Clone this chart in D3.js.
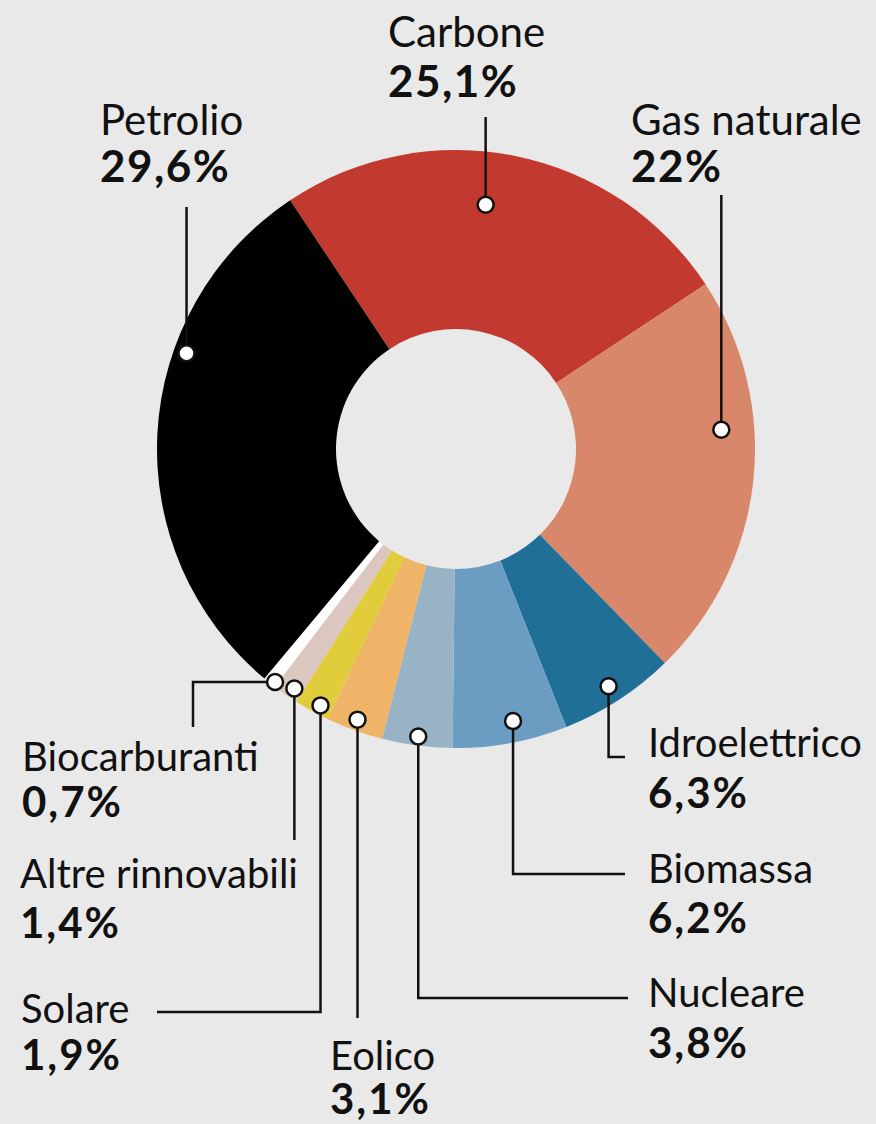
<!DOCTYPE html>
<html>
<head>
<meta charset="utf-8">
<script src="https://cdn.jsdelivr.net/npm/d3@7"></script>
<style>
html, body { margin: 0; padding: 0; background: #e9e9e9; }
svg { display: block; }
text { font-family: Lato, "Open Sans", sans-serif; fill: #111; }
</style>
</head>
<body>
<svg id="chart"></svg>
<script>
// data
const categories = ['Carbone', 'Gas naturale', 'Idroelettrico', 'Biomassa', 'Nucleare',
                    'Eolico', 'Solare', 'Altre rinnovabili', 'Biocarburanti', 'Petrolio']
const shares = [25.1, 22, 6.3, 6.2, 3.8, 3.1, 1.9, 1.4, 0.7, 29.6]

// styles
const palette = ['#c1392f', '#d9876a', '#1f6f97', '#6b9dc3', '#98b2c6',
                 '#efb468', '#e1cc3b', '#dbc7c0', '#ffffff', '#000000']

// label placement: where the dot sits in its slice, how the leader runs, where text goes
const labelLayout = {
	'Carbone':           {frac: 0.45, r: 246, steps: [{y: 117}], x: 388, y: 47, gap: 50, big: true},
	'Gas naturale':      {frac: 0.37, r: 266, steps: [{y: 195}], x: 631, y: 135, gap: 47, big: true},
	'Idroelettrico':     {frac: 0.51, r: 282, steps: [{y: 757}, {x: 625}], x: 648, y: 757, gap: 51},
	'Biomassa':          {frac: 0.44, r: 278, steps: [{y: 874}, {x: 625}], x: 648, y: 883, gap: 50},
	'Nucleare':          {frac: 0.50, r: 290, steps: [{y: 998}, {x: 628}], x: 648, y: 1007, gap: 51},
	'Eolico':            {frac: 0.51, r: 288, steps: [{y: 1018}], x: 330, y: 1070, gap: 44},
	'Solare':            {frac: 0.35, r: 290, steps: [{y: 1012}, {x: 157}], x: 21, y: 1023, gap: 47},
	'Altre rinnovabili': {frac: 0.34, r: 289, steps: [{y: 840}], x: 20, y: 888, gap: 50},
	'Biocarburanti':     {frac: 0.20, r: 295, steps: [{x: 193}, {y: 727}], x: 22, y: 771, gap: 46},
	'Petrolio':          {frac: 0.655, r: 286, steps: [{y: 207}], x: 100, y: 135, gap: 47, big: true}
}

const width = 876, height = 1124
const cx = 456, cy = 449
const outerR = 299, innerR = 120

const svg = d3.select('#chart')
	.attr('width', width)
	.attr('height', height)

svg.append('rect')
	.attr('width', width)
	.attr('height', height)
	.attr('fill', '#e9e9e9')

const data = categories.map((c, i) => ({category: c, share: shares[i], color: palette[i]}))

const pie = d3.pie()
	.sort(null)
	.value(d => d.share)
	.startAngle(-33.7 * Math.PI / 180)
	.endAngle(-33.7 * Math.PI / 180 + 2 * Math.PI)

const arcs = pie(data)

const arc = d3.arc()
	.innerRadius(innerR)
	.outerRadius(outerR)

const g = svg.append('g')
	.attr('transform', 'translate(' + cx + ',' + cy + ')')

g.selectAll('path.slice')
	.data(arcs)
	.join('path')
		.attr('class', 'slice')
		.attr('d', arc)
		.attr('fill', d => d.data.color)

const fmt = v => String(v).replace('.', ',') + '%'

// leaders, dots, labels
arcs.forEach(a => {
	const lay = labelLayout[a.data.category]
	const ang = a.startAngle + lay.frac * (a.endAngle - a.startAngle)
	const px = cx + lay.r * Math.sin(ang)
	const py = cy - lay.r * Math.cos(ang)

	const pts = [[px, py]]
	let x = px, y = py
	lay.steps.forEach(s => {
		if (s.x !== undefined) x = s.x
		if (s.y !== undefined) y = s.y
		pts.push([x, y])
	})

	svg.append('path')
		.attr('d', d3.line()(pts))
		.attr('fill', 'none')
		.attr('stroke', '#111')
		.attr('stroke-width', 2.5)

	svg.append('circle')
		.attr('cx', px)
		.attr('cy', py)
		.attr('r', 8)
		.attr('fill', '#fff')
		.attr('stroke', '#111')
		.attr('stroke-width', 2.5)

	svg.append('text')
		.attr('x', lay.x)
		.attr('y', lay.y)
		.attr('font-size', lay.big ? 42 : 40)
		.text(a.data.category)

	svg.append('text')
		.attr('x', lay.x)
		.attr('y', lay.y + lay.gap)
		.attr('font-size', lay.big ? 44 : 42)
		.attr('font-weight', 700)
		.attr('letter-spacing', lay.big ? 1.5 : 2)
		.text(fmt(a.data.share))
})
</script>
</body>
</html>
